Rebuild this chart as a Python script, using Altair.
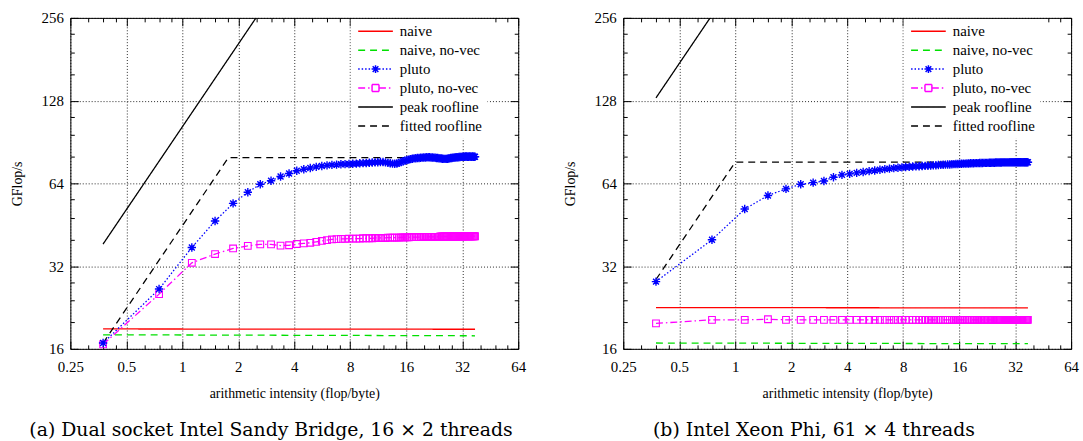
import altair as alt
import pandas as pd

# ---------------- data ----------------
SERIES = ["naive", "naive, no-vec", "pluto", "pluto, no-vec", "peak roofline", "fitted roofline"]
COLORS = ["#ff0000", "#00e000", "#0000ff", "#ff00ff", "#000000", "#000000"]

# arithmetic intensity of the measured points (flop/byte)
intensity = [
    0.375, 0.75, 1.125, 1.5, 1.875, 2.25, 2.625, 3.0, 3.375, 3.75,
    4.125, 4.5, 4.875, 5.25, 5.625, 6.0, 6.375, 6.75, 7.125, 7.5,
    7.875, 8.25, 8.625, 9.0, 9.375, 9.75, 10.125, 10.5, 10.875, 11.25,
    11.625, 12.0, 12.375, 12.75, 13.125, 13.5, 13.875, 14.25, 14.625, 15.0,
    15.375, 15.75, 16.125, 16.5, 16.875, 17.25, 17.625, 18.0, 18.375, 18.75,
    19.125, 19.5, 19.875, 20.25, 20.625, 21.0, 21.375, 21.75, 22.125, 22.5,
    22.875, 23.25, 23.625, 24.0, 24.375, 24.75, 25.125, 25.5, 25.875, 26.25,
    26.625, 27.0, 27.375, 27.75, 28.125, 28.5, 28.875, 29.25, 29.625, 30.0,
    30.375, 30.75, 31.125, 31.5, 31.875, 32.25, 32.625, 33.0, 33.375, 33.75,
    34.125, 34.5, 34.875, 35.25, 35.625, 36.0, 36.375, 36.75, 37.125, 37.5,
]

# ---- (a) Sandy Bridge ----
snb_pluto = [
    16.8, 26.4, 37.4, 46.7, 54.1, 59.4, 63.5, 65.4, 67.8, 69.5,
    71.1, 72.0, 72.8, 73.5, 74.0, 74.4, 74.7, 74.9, 75.1, 75.2,
    75.3, 75.4, 75.5, 75.7, 75.8, 75.9, 76.1, 76.2, 76.3, 76.4,
    76.5, 76.5, 76.3, 76.0, 75.7, 75.5, 75.4, 75.6, 76.0, 76.5,
    77.0, 77.4, 77.8, 78.1, 78.4, 78.7, 78.9, 79.0, 79.1, 79.2,
    79.3, 79.4, 79.5, 79.5, 79.6, 79.6, 79.6, 79.5, 79.5, 79.4,
    79.3, 79.2, 79.1, 79.0, 78.9, 78.8, 78.7, 78.6, 78.6, 78.6,
    78.7, 78.8, 78.9, 79.1, 79.2, 79.3, 79.4, 79.5, 79.6, 79.7,
    79.7, 79.8, 79.8, 79.9, 79.9, 80.0, 80.0, 80.0, 80.1, 80.1,
    80.0, 80.0, 80.1, 80.1, 80.0, 80.0, 80.1, 80.0, 80.0, 80.0,
]
snb_pluto_novec = [
    16.6, 25.3, 32.9, 35.4, 37.1, 37.9, 38.4, 38.4, 38.0, 38.1,
    38.5, 38.7, 38.9, 39.2, 39.5, 39.8, 40.0, 40.1, 40.2, 40.2,
    40.3, 40.3, 40.3, 40.3, 40.4, 40.4, 40.4, 40.4, 40.5, 40.5,
    40.5, 40.5, 40.5, 40.6, 40.6, 40.6, 40.6, 40.6, 40.6, 40.7,
    40.7, 40.7, 40.7, 40.7, 40.8, 40.8, 40.8, 40.8, 40.8, 40.8,
    40.8, 40.9, 40.9, 40.9, 40.9, 40.9, 40.9, 40.9, 40.9, 40.9,
    40.9, 40.9, 40.9, 40.9, 41.0, 41.0, 41.0, 41.0, 41.0, 41.0,
    41.0, 41.0, 41.0, 41.0, 41.0, 41.0, 41.0, 41.0, 41.0, 41.0,
    41.0, 41.0, 41.1, 41.1, 41.0, 41.0, 41.1, 41.1, 41.1, 41.1,
    41.1, 41.1, 41.1, 41.1, 41.1, 41.1, 41.1, 41.1, 41.1, 41.1,
]
snb_naive_x = [0.375, 37.5]
snb_naive = [18.9, 18.85]
snb_naive_novec = [18.0, 17.85]
snb_peak_x = [0.375, 2.49]
snb_peak = [38.5, 256.0]
snb_fit_x = [0.375, 1.77, 37.5]
snb_fit = [16.8, 79.4, 79.4]

# ---- (b) Xeon Phi ----
phi_pluto = [
    28.1, 39.9, 51.6, 57.8, 61.1, 63.5, 64.4, 65.3, 67.4, 68.7,
    69.3, 69.9, 70.4, 70.9, 71.3, 71.7, 72.1, 72.4, 72.7, 72.9,
    73.2, 73.4, 73.5, 73.7, 73.8, 73.9, 74.0, 74.1, 74.2, 74.3,
    74.4, 74.5, 74.6, 74.7, 74.8, 74.9, 75.0, 75.0, 75.1, 75.2,
    75.3, 75.3, 75.4, 75.4, 75.5, 75.5, 75.6, 75.6, 75.7, 75.7,
    75.7, 75.8, 75.8, 75.8, 75.9, 75.9, 75.9, 76.0, 76.0, 76.0,
    76.0, 76.1, 76.1, 76.1, 76.1, 76.1, 76.2, 76.2, 76.2, 76.2,
    76.2, 76.2, 76.3, 76.3, 76.3, 76.3, 76.3, 76.3, 76.3, 76.4,
    76.4, 76.4, 76.4, 76.4, 76.4, 76.4, 76.4, 76.4, 76.4, 76.4,
    76.4, 76.4, 76.4, 76.4, 76.4, 76.4, 76.4, 76.4, 76.4, 76.4,
]
phi_pluto_novec = [
    19.8, 20.4, 20.4, 20.5, 20.4, 20.4, 20.4, 20.4, 20.4, 20.4,
    20.4, 20.4, 20.4, 20.4, 20.4, 20.4, 20.4, 20.4, 20.4, 20.4,
    20.4, 20.4, 20.4, 20.4, 20.4, 20.4, 20.4, 20.4, 20.4, 20.4,
    20.4, 20.4, 20.4, 20.4, 20.4, 20.4, 20.4, 20.4, 20.4, 20.4,
    20.4, 20.4, 20.4, 20.4, 20.4, 20.4, 20.4, 20.4, 20.4, 20.4,
    20.4, 20.4, 20.4, 20.4, 20.4, 20.4, 20.4, 20.4, 20.4, 20.4,
    20.4, 20.4, 20.4, 20.4, 20.4, 20.4, 20.4, 20.4, 20.4, 20.4,
    20.4, 20.4, 20.4, 20.4, 20.4, 20.4, 20.4, 20.4, 20.4, 20.4,
    20.4, 20.4, 20.4, 20.4, 20.4, 20.4, 20.4, 20.4, 20.4, 20.4,
    20.4, 20.4, 20.4, 20.4, 20.4, 20.4, 20.4, 20.4, 20.4, 20.4,
]
phi_naive_x = [0.375, 37.5]
phi_naive = [22.6, 22.55]
phi_naive_novec = [16.8, 16.7]
phi_peak_x = [0.375, 0.733]
phi_peak = [131.0, 256.0]
phi_fit_x = [0.375, 1.0, 37.5]
phi_fit = [28.6, 76.4, 76.4]

# axis ticks
X_MAJOR = [0.25, 0.5, 1, 2, 4, 8, 16, 32, 64]
Y_MAJOR = [16, 32, 64, 128, 256]
MINOR_STEPS = [1.25, 1.5, 1.75]

CAPTION_A = "(a) Dual socket Intel Sandy Bridge, 16 \u00d7 2 threads"
CAPTION_B = "(b) Intel Xeon Phi, 61 \u00d7 4 threads"

# ---------------- styling ----------------
SERIF = "Liberation Serif"
DASHES = [[1, 0], [7, 5], [1.5, 2], [7, 3, 1.5, 3], [1, 0], [7, 5]]
ASTERISK = "M-1,0H1M0,-1V1M-0.7,-0.7L0.7,0.7M-0.7,0.7L0.7,-0.7"


def chopped(x0, y0, x1, y1, step=0.28):
    """A segment cut into short sub-paths so that a dotted dash pattern
    (which restarts on every sub-path) still draws it solid."""
    length = ((x1 - x0) ** 2 + (y1 - y0) ** 2) ** 0.5
    n = max(1, int(length / step + 0.999))
    parts = []
    for i in range(n):
        a, b = i / n, (i + 1) / n
        parts.append(
            f"M{x0 + (x1 - x0) * a:.3f},{y0 + (y1 - y0) * a:.3f}"
            f"L{x0 + (x1 - x0) * b:.3f},{y0 + (y1 - y0) * b:.3f}"
        )
    return "".join(parts)


# legend samples: a long line (path units of 5px) with the marker in its middle
LEGEND_ASTERISK = (
    "M-1,0H6"
    + chopped(1.7, 0, 3.3, 0)
    + chopped(2.5, -0.8, 2.5, 0.8)
    + chopped(1.93, -0.57, 3.07, 0.57)
    + chopped(1.93, 0.57, 3.07, -0.57)
)
LEGEND_SQUARE = (
    "M-1,0H1.8M3.2,0H6"
    "M1.8,-0.7H3.2M3.2,-0.7V0.7M3.2,0.7H1.8M1.8,0.7V-0.7"
)
LEGEND_PATHS = ["M-1,0H6", "M-1,0H6", LEGEND_ASTERISK, LEGEND_SQUARE, "M-1,0H6", "M-1,0H6"]

x_ticks = sorted(X_MAJOR + [m * s for m in X_MAJOR[:-1] for s in MINOR_STEPS])
y_ticks = sorted(Y_MAJOR + [m * s for m in Y_MAJOR[:-1] for s in MINOR_STEPS])
x_major_test = "indexof([0.25,0.5,1,2,4,8,16,32,64], datum.value) >= 0"
y_major_test = "indexof([16,32,64,128,256], datum.value) >= 0"

color_scale = alt.Scale(domain=SERIES, range=COLORS)
dash_scale = alt.Scale(domain=SERIES, range=DASHES)
shape_scale = alt.Scale(domain=SERIES, range=LEGEND_PATHS)
x_scale = alt.Scale(type="log", base=2, domain=[0.25, 64], nice=False)
y_scale = alt.Scale(type="log", base=2, domain=[16, 256], nice=False)


def make_panel(pluto, novec, naive_x, naive, naive_novec, peak_x, peak, fit_x, fit,
               caption, caption_dx):
    rows = []
    for xv, yv in zip(naive_x, naive):
        rows.append({"series": "naive", "x": xv, "y": yv})
    for xv, yv in zip(naive_x, naive_novec):
        rows.append({"series": "naive, no-vec", "x": xv, "y": yv})
    for xv, yv in zip(intensity, pluto):
        rows.append({"series": "pluto", "x": xv, "y": yv})
    for xv, yv in zip(intensity, novec):
        rows.append({"series": "pluto, no-vec", "x": xv, "y": yv})
    for xv, yv in zip(peak_x, peak):
        rows.append({"series": "peak roofline", "x": xv, "y": yv})
    for xv, yv in zip(fit_x, fit):
        rows.append({"series": "fitted roofline", "x": xv, "y": yv})
    df = pd.DataFrame(rows)

    x_axis = alt.Axis(
        values=x_ticks,
        labelExpr=f"{x_major_test} ? '' + datum.value : ''",
        labelFlush=False, labelOverlap=False,
        grid=True, gridColor="#000000", gridDash=[1, 2], gridWidth=1,
        gridOpacity={"condition": {"test": x_major_test, "value": 0.85}, "value": 0},
        tickSize={"expr": f"{x_major_test} ? -8 : -4"},
        tickColor="black", tickWidth=1, domain=False,
        labelPadding=19, labelFont=SERIF, labelFontSize=15, labelColor="black",
        title="arithmetic intensity (flop/byte)", titleFont=SERIF, titleFontSize=14,
        titleFontWeight="normal", titleColor="black", titlePadding=8,
    )
    y_axis = alt.Axis(
        values=y_ticks,
        labelExpr=f"{y_major_test} ? '' + datum.value : ''",
        labelFlush=False, labelOverlap=False,
        grid=True, gridColor="#000000", gridDash=[1, 2], gridWidth=1,
        gridOpacity={"condition": {"test": y_major_test, "value": 0.85}, "value": 0},
        tickSize={"expr": f"{y_major_test} ? -8 : -4"},
        tickColor="black", tickWidth=1, domain=False,
        labelPadding=15, labelFont=SERIF, labelFontSize=15, labelColor="black",
        title="GFlop/s", titleFont=SERIF, titleFontSize=14,
        titleFontWeight="normal", titleColor="black", titlePadding=17,
        minExtent=0,
    )
    x_top = alt.Axis(
        orient="top", values=x_ticks, labels=False, grid=False, domain=False,
        tickSize={"expr": f"{x_major_test} ? -8 : -4"}, tickColor="black",
        title=None, minExtent=0, maxExtent=0,
    )
    y_right = alt.Axis(
        orient="right", values=y_ticks, labels=False, grid=False, domain=False,
        tickSize={"expr": f"{y_major_test} ? -8 : -4"}, tickColor="black",
        title=None, minExtent=0, maxExtent=0,
    )
    legend = alt.Legend(
        title=None, orient="none", legendX=283, legendY=1, fillColor="white",
        padding=5, rowPadding=3.1, symbolSize=100,
        symbolStrokeWidth=1.5, symbolOpacity=1, labelFont=SERIF, labelFontSize=15,
        labelColor="black", labelOffset=29.5, labelLimit=300,
    )

    base = alt.Chart(df)
    # invisible layer that only carries the legend (line sample + marker per series)
    legend_layer = alt.Chart(pd.DataFrame({"series": SERIES})).mark_point(
        filled=False, opacity=0
    ).encode(
        color=alt.Color("series:N", scale=color_scale, legend=legend),
        strokeDash=alt.StrokeDash("series:N", scale=dash_scale, legend=legend),
        shape=alt.Shape("series:N", scale=shape_scale, legend=legend),
    )
    lines = base.mark_line(strokeWidth=1.3, clip=True).encode(
        x=alt.X("x:Q", scale=x_scale, axis=x_axis),
        y=alt.Y("y:Q", scale=y_scale, axis=y_axis),
        color=alt.Color("series:N", scale=color_scale, legend=legend),
        strokeDash=alt.StrokeDash("series:N", scale=dash_scale, legend=legend),
        order=alt.Order("x:Q"),
    )
    pluto_pts = base.transform_filter(alt.datum.series == "pluto").mark_point(
        shape=ASTERISK, size=72, filled=False, strokeWidth=1.4, color="#0000ff", opacity=1, clip=True
    ).encode(
        x=alt.X("x:Q", scale=x_scale, axis=None),
        y=alt.Y("y:Q", scale=y_scale, axis=None),
    )
    novec_pts = base.transform_filter(alt.datum.series == "pluto, no-vec").mark_point(
        shape="square", size=46, filled=False, strokeWidth=1.1, color="#ff00ff", opacity=1, clip=True
    ).encode(
        x=alt.X("x:Q", scale=x_scale, axis=None),
        y=alt.Y("y:Q", scale=y_scale, axis=None),
    )
    mirror = base.mark_line(opacity=0).encode(
        x=alt.X("x:Q", scale=x_scale, axis=x_top),
        y=alt.Y("y:Q", scale=y_scale, axis=y_right),
        detail="series:N",
    )
    return alt.layer(legend_layer, lines, novec_pts, pluto_pts, mirror).resolve_axis(
        x="independent", y="independent"
    ).properties(
        width=452, height=334,
        title=alt.TitleParams(
            caption, orient="bottom", anchor="middle", frame="bounds", dx=caption_dx,
            font="DejaVu Serif", fontSize=19, fontWeight="normal", color="black", offset=21,
        ),
    )


left = make_panel(snb_pluto, snb_pluto_novec, snb_naive_x, snb_naive, snb_naive_novec,
                  snb_peak_x, snb_peak, snb_fit_x, snb_fit, CAPTION_A, 3)
right = make_panel(phi_pluto, phi_pluto_novec, phi_naive_x, phi_naive, phi_naive_novec,
                   phi_peak_x, phi_peak, phi_fit_x, phi_fit, CAPTION_B, -7)

chart = alt.hconcat(left, right, spacing=37).resolve_scale(
    color="independent", strokeDash="independent", shape="independent"
).resolve_legend(
    color="independent", strokeDash="independent", shape="independent"
).properties(
    padding={"left": 10, "top": 8, "right": 4, "bottom": 2},
    background="white",
).configure_view(stroke="black", strokeWidth=1)

chart.save("out.html", embed_options={"renderer": "svg", "actions": False})
